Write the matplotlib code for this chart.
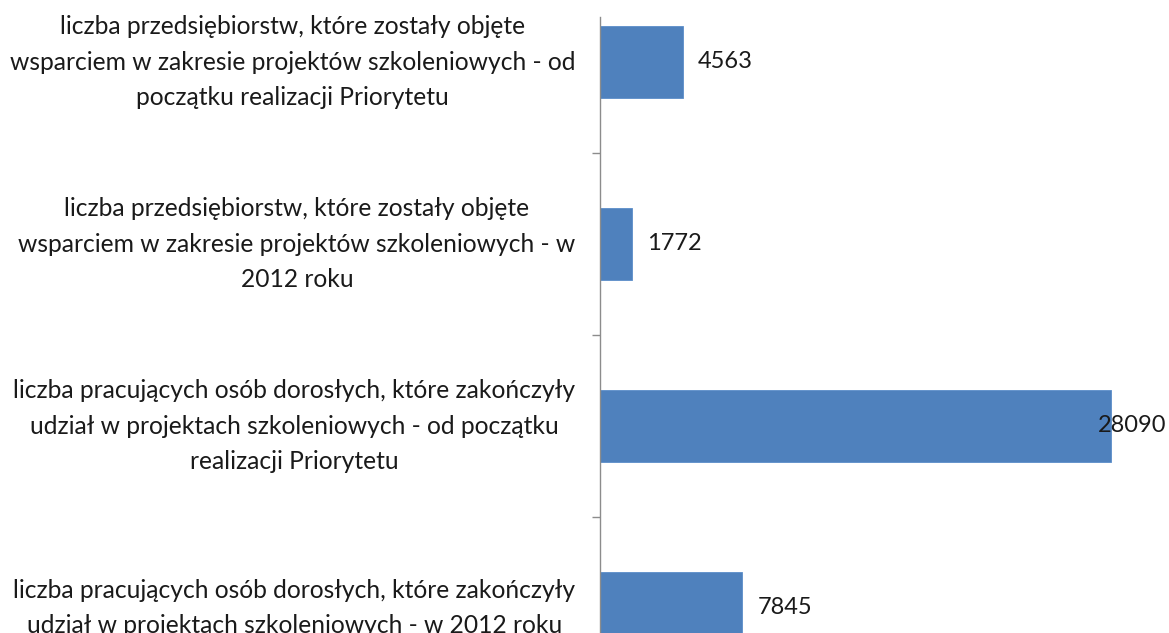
import matplotlib
matplotlib.use("Agg")
import matplotlib.pyplot as plt
import matplotlib.transforms as mtransforms

categories = [
    "liczba przedsiębiorstw, które zostały objęte\nwsparciem w zakresie projektów szkoleniowych - od\npoczątku realizacji Priorytetu",
    "liczba przedsiębiorstw, które zostały objęte\nwsparciem w zakresie projektów szkoleniowych - w\n2012 roku",
    "liczba pracujących osób dorosłych, które zakończyły\nudział w projektach szkoleniowych - od początku\nrealizacji Priorytetu",
    "liczba pracujących osób dorosłych, które zakończyły\nudział w projektach szkoleniowych - w 2012 roku",
]
values = [4563, 1772, 28090, 7845]
value_labels = ["4563", "1772", "28090", "7845"]

W, H = 1169, 633
fig = plt.figure(figsize=(W / 100, H / 100), dpi=100)
plt.rcParams['font.family'] = ['Lato', 'DejaVu Sans']

# axes placement in pixels
ax_left, ax_right = 599.5, 1146.0
ax_top, ax_bottom = 17.0, 699.0
ax = fig.add_axes([ax_left / W, 1 - ax_bottom / H, (ax_right - ax_left) / W, (ax_bottom - ax_top) / H])

ypos = list(range(len(values)))
ax.barh(ypos, values, height=0.4, color="#4F81BD", edgecolor="#5B8DC9", linewidth=0.6, zorder=2)
ax.set_xlim(0, 30000)
ax.set_ylim(3.5, (ax_top - 62) / 182.0)

for s in ["top", "right", "bottom"]:
    ax.spines[s].set_visible(False)
ax.spines["left"].set_color("#8C8C8C")
ax.spines["left"].set_linewidth(1.0)
ax.set_xticks([])
ax.set_yticks([0.5, 1.5, 2.5])
ax.set_yticklabels([])
ax.tick_params(axis="y", direction="out", length=5.5, width=1.0, color="#8C8C8C")

fs = 17
# category labels
lab_trans = mtransforms.offset_copy(ax.get_yaxis_transform(), fig=fig, x=-24 * 0.72, units="points")
for i, c in enumerate(categories):
    ax.text(0, i, c, transform=lab_trans, ha="right", va="center", multialignment="center",
            fontsize=17.7, color="#1a1a1a", linespacing=1.68)

# value labels
xmax = 30000
for i, (v, t) in enumerate(zip(values, value_labels)):
    if v > 0.85 * xmax:
        tr = mtransforms.blended_transform_factory(fig.transFigure, ax.transData)
        ax.text(1166 / W, i, t, transform=tr, ha="right", va="center", fontsize=fs, color="#1a1a1a")
    else:
        tr = mtransforms.offset_copy(ax.transData, fig=fig, x=15 * 0.72, units="points")
        ax.text(v, i, t, transform=tr, ha="left", va="center", fontsize=fs, color="#1a1a1a")

fig.savefig("out.png", dpi=100)
